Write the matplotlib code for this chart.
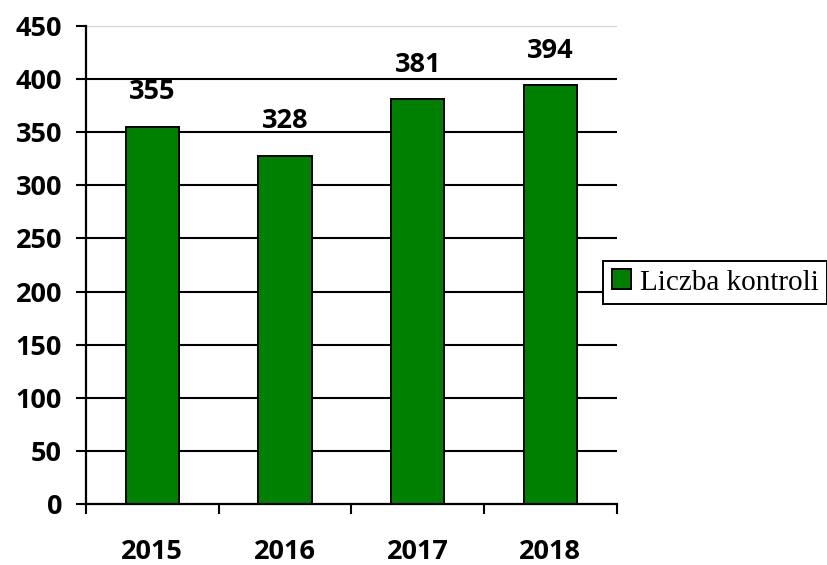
import matplotlib
matplotlib.use('Agg')
import numpy as np
from matplotlib import pyplot as plt

years = ['2015', '2016', '2017', '2018']
counts = [355, 328, 381, 394]
series_name = 'Liczba kontroli'
y_ticks = list(range(0, 451, 50))

bar_color = '#008000'
label_font = 'Open Sans'
label_size = 19.5

fig = plt.figure(figsize=(8.27, 5.65), dpi=100)
ax = fig.add_axes([86 / 827, 1 - 504 / 565, (616.7 - 86) / 827, (504 - 26) / 565])

x = np.arange(len(years))
bars = ax.bar(x, counts, width=0.4, color=bar_color, edgecolor='black',
              linewidth=1.4, label=series_name, zorder=3)

# value labels above bars
for rect, value in zip(bars, counts):
    ax.annotate(str(value), (rect.get_x() + rect.get_width() / 2, value),
                xytext=(0, 25), textcoords='offset points',
                ha='center', va='center', fontsize=label_size, fontweight='bold',
                family=label_font)

ax.set_xlim(-0.5, len(years) - 0.5)
ax.set_ylim(0, 450)

# horizontal gridlines (top one is light)
for yv in y_ticks[1:]:
    color = '#d0d0d0' if yv == 450 else 'black'
    ax.axhline(yv, color=color, linewidth=1.5, zorder=1)

ax.set_yticks(y_ticks)
ax.set_yticklabels([str(v) for v in y_ticks], fontsize=label_size, fontweight='bold',
                   family=label_font)
ax.tick_params(axis='y', length=7.2, width=1.5, pad=10, direction='out')

# ticks at category boundaries, labels at centers
ax.set_xticks(np.arange(-0.5, len(years), 1.0))
ax.set_xticklabels([])
ax.set_xticks(x, minor=True)
ax.set_xticklabels(years, minor=True, fontsize=label_size, fontweight='bold',
                   family=label_font)
ax.tick_params(axis='x', which='major', length=7.2, width=1.5, direction='out')
ax.tick_params(axis='x', which='minor', length=0, pad=25)

for side in ['top', 'right']:
    ax.spines[side].set_visible(False)
for side in ['left', 'bottom']:
    ax.spines[side].set_linewidth(1.6)
    ax.spines[side].set_zorder(4)

leg = fig.legend(handles=[bars], labels=[series_name], loc='center left',
                 bbox_to_anchor=(603 / 827, 1 - 282.5 / 565), borderaxespad=0,
                 prop={'family': 'Liberation Serif', 'size': 21},
                 fancybox=False, framealpha=1, edgecolor='black',
                 handlelength=0.66, handleheight=0.66, handletextpad=0.3,
                 borderpad=0.3)
leg.get_frame().set_linewidth(1.4)

fig.savefig('out.png', dpi=100)
